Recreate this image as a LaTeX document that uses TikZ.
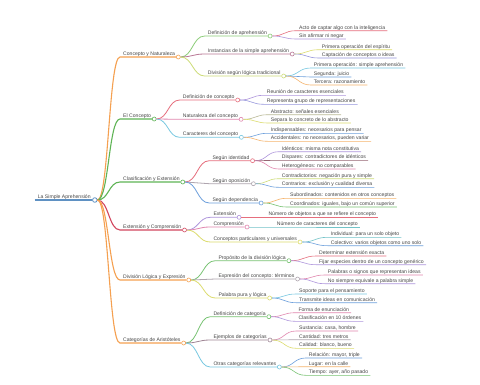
\documentclass[tikz,border=0pt]{standalone}
\usepackage{fontspec}
\setmainfont{Liberation Sans}
\usetikzlibrary{calc}
\definecolor{txt}{RGB}{70,70,70}
\definecolor{rootc}{RGB}{95,145,195}
\definecolor{orL}{RGB}{245,160,80}
\definecolor{grL}{RGB}{95,180,85}
\definecolor{rdL}{RGB}{210,70,95}
\definecolor{gr2}{RGB}{140,205,120}
\definecolor{mauve}{RGB}{185,120,150}
\definecolor{ygr}{RGB}{205,220,120}
\definecolor{rd2}{RGB}{230,110,125}
\definecolor{pk}{RGB}{225,135,175}
\definecolor{cy}{RGB}{120,200,225}
\definecolor{gy}{RGB}{175,165,175}
\definecolor{bl}{RGB}{110,160,220}
\definecolor{pu}{RGB}{175,150,220}
\definecolor{ye}{RGB}{220,220,110}
\definecolor{br}{RGB}{160,135,150}
\definecolor{or3}{RGB}{245,180,110}
\definecolor{gr3}{RGB}{120,195,115}
\definecolor{og}{RGB}{185,185,150}
\definecolor{dr}{RGB}{150,100,115}
\definecolor{te}{RGB}{115,195,200}
\definecolor{bp}{RGB}{150,150,220}
\tikzset{
  lbl/.style={font=\fontsize{5.1}{6}\selectfont, text=txt, inner sep=0pt, anchor=south west, text height=3.7pt, text depth=1.3pt},
  dot/.style={circle, inner sep=0pt, minimum size=4pt, fill=white, line width=0.6pt},
}
\newcommand\inode[7]{%
  \node[lbl] (#1) at (#3,#4) {#5};
  \node[dot, draw=#6] (#1-dot) at ([xshift=3pt]#1.south east) {};
  \coordinate (#1-s) at ([xshift=-3pt]#1.south west);
  \coordinate (#1-m) at ($(#2-dot.east)!0.5!(#1-s)$);
  \draw[#6, line width=#7] (#2-dot.east) .. controls (#1-m |- #2-dot.east) and (#1-m |- #1-s) .. (#1-s) -- (#1-dot.west);
}
\newcommand\leaf[6]{%
  \node[lbl] (#1) at (#3,#4) {#5};
  \coordinate (#1-s) at ([xshift=-3pt]#1.south west);
  \coordinate (#1-m) at ($(#2-dot.east)!0.5!(#1-s)$);
  \draw[#6, line width=0.6pt] (#2-dot.east) .. controls (#1-m |- #2-dot.east) and (#1-m |- #1-s) .. (#1-s) -- ([xshift=2pt]#1.south east);
}
\begin{document}
\begin{tikzpicture}[x=1pt,y=-1pt]
\useasboundingbox[fill=white] (0,0) rectangle (480,384);
% root
\node[lbl] (root) at (37.7,200) {La Simple Aprehensión};
\node[dot, draw=rootc, minimum size=4.6pt, line width=0.8pt] (root-dot) at ([xshift=4pt]root.south east) {};
\draw[rootc, line width=1.8pt] ([xshift=-3pt]root.south west) -- (root-dot.west);
% level 1
\inode{a}{root}{123}{57}{Concepto y Naturaleza}{orL}{1.1pt}
\inode{b}{root}{123}{119}{El Concepto}{grL}{1.1pt}
\inode{c}{root}{123}{182}{Clasificación y Extensión}{grL}{1.1pt}
\inode{d}{root}{123}{230}{Extensión y Comprensión}{rdL}{1.1pt}
\inode{e}{root}{123}{280}{División Lógica y Expresión}{orL}{1.1pt}
\inode{f}{root}{123}{343}{Categorías de Aristóteles}{orL}{1.1pt}
% level 2
\inode{aa}{a}{207.7}{36}{Definición de aprehensión}{gr2}{0.8pt}
\inode{ab}{a}{207.7}{54}{Instancias de la simple aprehensión}{mauve}{0.8pt}
\inode{ac}{a}{207.7}{76}{División según lógica tradicional}{ygr}{0.8pt}
\inode{ba}{b}{182.7}{100}{Definición de concepto}{rd2}{0.8pt}
\inode{bb}{b}{182.7}{119.3}{Naturaleza del concepto}{pk}{0.8pt}
\inode{bc}{b}{182.7}{137.3}{Caracteres del concepto}{cy}{0.8pt}
\inode{ca}{c}{212.3}{160.7}{Según identidad}{rd2}{0.8pt}
\inode{cb}{c}{212.3}{183.7}{Según oposición}{gy}{0.8pt}
\inode{cc}{c}{212.3}{203}{Según dependencia}{bl}{0.8pt}
\inode{da}{d}{213.3}{217.3}{Extensión}{pu}{0.8pt}
\inode{db}{d}{213.3}{227}{Comprensión}{pk}{0.8pt}
\inode{dc}{d}{213.3}{242}{Conceptos particulares y universales}{ye}{0.8pt}
\inode{ea}{e}{218.3}{260.7}{Propósito de la división lógica}{gr3}{0.8pt}
\inode{eb}{e}{218.3}{279}{Expresión del concepto: términos}{gy}{0.8pt}
\inode{ec}{e}{218.3}{298}{Palabra pura y lógica}{ye}{0.8pt}
\inode{fa}{f}{213.3}{316.7}{Definición de categoría}{gr3}{0.8pt}
\inode{fb}{f}{213.3}{340}{Ejemplos de categorías}{br}{0.8pt}
\inode{fc}{f}{213.3}{367}{Otras categorías relevantes}{cy}{0.8pt}
% level 3
\leaf{aa1}{aa}{299}{30.7}{Acto de captar algo con la inteligencia}{rd2}
\leaf{aa2}{aa}{299}{39}{Sin afirmar ni negar}{pu}
\leaf{ab1}{ab}{321.7}{49.7}{Primera operación del espíritu}{ye}
\leaf{ab2}{ab}{321.7}{58}{Captación de conceptos o ideas}{bp}
\leaf{ac1}{ac}{313.7}{68}{Primera operación: simple aprehensión}{cy}
\leaf{ac2}{ac}{313.7}{77}{Segunda: juicio}{bl}
\leaf{ac3}{ac}{313.7}{85}{Tercera: razonamiento}{or3}
\leaf{ba1}{ba}{266.7}{95.3}{Reunión de caracteres esenciales}{pu}
\leaf{ba2}{ba}{266.7}{104.3}{Representa grupo de representaciones}{bp}
\leaf{bb1}{bb}{270.7}{114.7}{Abstracto: señales esenciales}{og}
\leaf{bb2}{bb}{270.7}{123}{Separa lo concreto de lo abstracto}{ye}
\leaf{bc1}{bc}{270.7}{133.3}{Indispensables: necesarios para pensar}{bl}
\leaf{bc2}{bc}{270.7}{141.3}{Accidentales: no necesarios, pueden variar}{or3}
\leaf{ca1}{ca}{281.7}{151.7}{Idénticos: misma nota constitutiva}{pu}
\leaf{ca2}{ca}{281.7}{160.3}{Dispares: contradictores de idénticos}{dr}
\leaf{ca3}{ca}{281.7}{169}{Heterogéneos: no comparables}{pk}
\leaf{cb1}{cb}{281.7}{178.7}{Contradictorios: negación pura y simple}{ygr}
\leaf{cb2}{cb}{281.7}{187.3}{Contrarios: exclusión y cualidad diversa}{bl}
\leaf{cc1}{cc}{290}{198.3}{Subordinados: contenidos en otros conceptos}{or3}
\leaf{cc2}{cc}{290}{207}{Coordinados: iguales, bajo un común superior}{gr3}
\leaf{da1}{da}{268.3}{217.3}{Número de objetos a que se refiere el concepto}{rd2}
\leaf{db1}{db}{276.7}{227}{Número de caracteres del concepto}{te}
\leaf{dc1}{dc}{330.7}{237.3}{Individual: para un solo objeto}{te}
\leaf{dc2}{dc}{330.7}{245.7}{Colectivo: varios objetos como uno solo}{bl}
\leaf{ea1}{ea}{319}{256}{Determinar extensión exacta}{rd2}
\leaf{ea2}{ea}{319}{264.7}{Fijar especies dentro de un concepto genérico}{pu}
\leaf{eb1}{eb}{327.7}{275}{Palabras o signos que representan ideas}{pk}
\leaf{eb2}{eb}{327.7}{283.7}{No siempre equivale a palabra simple}{pu}
\leaf{ec1}{ec}{299}{294}{Soporte para el pensamiento}{cy}
\leaf{ec2}{ec}{299}{302.7}{Transmite ideas en comunicación}{bl}
\leaf{fa1}{fa}{298.3}{312.7}{Forma de enunciación}{pk}
\leaf{fa2}{fa}{298.3}{321.3}{Clasificación en 10 órdenes}{pu}
\leaf{fb1}{fb}{299}{331}{Sustancia: casa, hombre}{pk}
\leaf{fb2}{fb}{299}{339.7}{Cantidad: tres metros}{gy}
\leaf{fb3}{fb}{299}{348.3}{Calidad: blanco, bueno}{ye}
\leaf{fc1}{fc}{308.7}{358}{Relación: mayor, triple}{bl}
\leaf{fc2}{fc}{308.7}{366.7}{Lugar: en la calle}{or3}
\leaf{fc3}{fc}{308.7}{375.3}{Tiempo: ayer, año pasado}{gr3}
\end{tikzpicture}
\end{document}
